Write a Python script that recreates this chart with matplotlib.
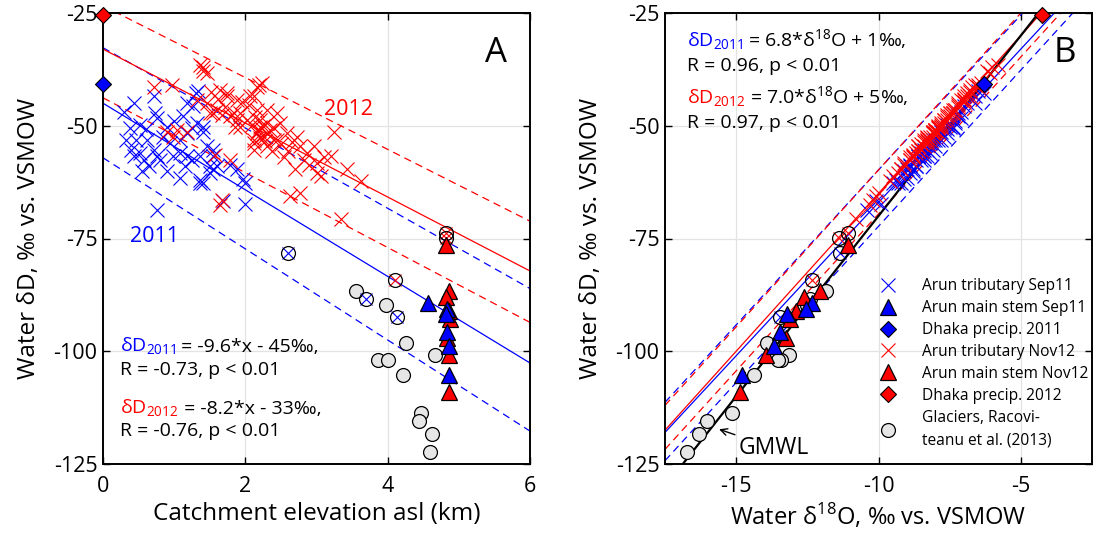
import numpy as np
import matplotlib.pyplot as plt
from matplotlib.lines import Line2D
from matplotlib.transforms import offset_copy

plt.rcParams['font.family'] = ['Open Sans', 'DejaVu Sans']
plt.rcParams['mathtext.fontset'] = 'custom'
plt.rcParams['mathtext.rm'] = 'Open Sans'
plt.rcParams['axes.unicode_minus'] = False

# ---- values ----
# Arun tributaries Sep 2011: catchment elevation (km), dD, d18O (permil VSMOW)
trib11_elev = [0.43, 0.72, 0.73, 0.76, 0.52, 0.38, 0.47, 0.33, 0.40, 0.52,
               0.57, 0.55, 0.76, 0.80, 0.90, 1.08, 1.15, 1.25, 1.37, 1.37,
               1.41, 1.51, 1.60, 1.79, 1.88, 2.00, 2.00, 1.69, 0.76, 0.85,
               0.94, 1.08, 1.18, 1.25, 1.32, 1.27, 1.34, 1.18, 1.41, 1.46,
               1.55, 1.08, 1.18, 0.99, 0.64, 0.43, 0.71, 0.62, 0.90, 1.31,
               1.41, 1.55, 1.50, 1.55, 1.97, 0.30, 0.60, 1.00, 1.12, 1.36]
trib11_dD = [-45.0, -43.5, -47.2, -48.3, -49.8, -50.5, -53.1, -53.1, -55.3, -56.0,
             -57.5, -60.1, -56.8, -57.5, -60.1, -61.6, -59.0, -57.5, -56.8, -62.0,
             -62.7, -60.5, -59.0, -58.6, -59.7, -62.7, -67.3, -66.7, -68.6, -52.4,
             -53.8, -53.1, -51.6, -50.5, -49.4, -45.7, -42.4, -45.0, -51.3, -54.6,
             -56.8, -56.0, -56.8, -56.8, -59.0, -56.8, -55.3, -53.1, -50.2, -42.8,
             -50.2, -55.3, -59.0, -59.7, -61.9, -47.0, -50.8, -49.0, -47.8, -62.7]
trib11_d18O = [-6.9, -6.6, -7.2, -7.1, -7.6, -7.4, -8.1, -7.8, -8.4, -8.2,
               -8.7, -8.8, -8.3, -8.5, -9.1, -9.0, -8.9, -8.4, -8.6, -9.4,
               -9.2, -8.9, -8.7, -8.9, -8.8, -9.5, -9.9, -10.1, -10.4, -7.7,
               -8.2, -7.9, -7.6, -7.7, -7.3, -7.0, -6.5, -6.6, -7.8, -8.0,
               -8.4, -8.5, -8.6, -8.4, -9.0, -8.6, -8.3, -8.0, -7.5, -6.3,
               -7.4, -8.1, -8.7, -9.0, -9.1, -7.1, -7.6, -7.3, -7.2, -9.3]

# Arun tributaries Nov 2012
trib12_elev = [1.41, 1.41, 1.37, 0.71, 0.97, 1.74, 1.88, 1.60, 1.67, 1.79,
               1.93, 1.86, 2.02, 2.16, 2.12, 2.31, 2.21, 2.16, 2.26, 2.12,
               2.31, 2.40, 0.99, 1.04, 1.32, 1.46, 1.51, 1.79, 1.65, 1.67,
               0.90, 1.18, 1.46, 1.65, 1.74, 2.24, 2.07, 2.16, 2.21, 2.19,
               2.31, 2.12, 2.12, 2.45, 2.49, 2.59, 2.45, 2.73, 2.77, 2.96,
               2.87, 2.82, 3.01, 3.20, 3.24, 3.43, 3.62, 3.06, 1.72, 1.84,
               1.88, 1.93, 1.55, 1.58, 3.34, 2.63, 2.77, 2.19, 3.01, 2.30,
               2.25, 2.35, 2.40, 2.20, 2.50, 2.60, 2.65, 2.05, 1.95, 2.10,
               2.90, 3.10, 2.18, 2.28, 2.14, 2.38, 1.62, 1.52, 2.55, 2.70]
trib12_dD = [-36.9, -37.9, -36.5, -41.3, -40.9, -42.8, -44.2, -46.5, -47.6, -47.9,
             -47.2, -50.2, -48.7, -41.3, -43.5, -46.5, -50.2, -51.6, -52.4, -53.8,
             -54.6, -53.1, -52.4, -50.9, -44.2, -45.0, -47.2, -57.5, -67.5, -66.4,
             -51.3, -51.3, -38.3, -42.0, -43.5, -40.5, -43.5, -46.5, -48.7, -50.9,
             -51.6, -53.1, -55.3, -47.2, -49.4, -51.6, -53.1, -52.4, -54.6, -54.6,
             -56.0, -57.5, -58.3, -56.8, -51.3, -59.7, -62.3, -61.2, -45.8, -47.2,
             -48.7, -50.2, -47.2, -56.5, -70.6, -65.6, -64.9, -40.9, -60.5, -49.5,
             -50.0, -51.0, -50.5, -52.8, -54.0, -55.5, -53.5, -45.5, -44.8, -49.8,
             -58.8, -57.0, -51.2, -53.4, -48.0, -55.6, -44.0, -42.6, -57.0, -59.5]
trib12_d18O = [-6.0, -6.2, -5.8, -6.7, -6.5, -6.9, -7.0, -7.3, -7.6, -7.5,
               -7.4, -7.9, -7.7, -6.5, -7.0, -7.4, -7.8, -8.1, -8.2, -8.3,
               -8.6, -8.4, -8.1, -8.0, -7.1, -7.2, -7.5, -8.9, -10.3, -10.2,
               -7.9, -8.1, -6.1, -6.8, -6.9, -6.4, -6.8, -7.3, -7.6, -8.0,
               -8.0, -8.2, -8.5, -7.5, -7.8, -8.1, -8.3, -8.3, -8.4, -8.6,
               -8.7, -8.9, -9.1, -8.8, -8.1, -9.2, -9.6, -9.5, -7.2, -7.4,
               -7.7, -7.8, -7.4, -8.8, -10.8, -10.1, -10.0, -6.6, -9.3, -7.7,
               -7.9, -8.0, -7.9, -8.3, -8.5, -8.6, -8.4, -7.2, -7.0, -7.8,
               -9.1, -8.9, -8.0, -8.3, -7.6, -8.6, -7.0, -6.8, -8.8, -9.2]

# glacier-fed tributaries (circled crosses)
gfed11_elev = [2.60, 3.69, 4.13]
gfed11_dD = [-78.3, -88.5, -92.3]
gfed11_d18O = [-11.35, -12.4, -13.46]
gfed12_elev = [4.10, 4.82, 4.82]
gfed12_dD = [-84.1, -73.7, -74.8]
gfed12_d18O = [-12.35, -11.07, -11.38]

# Arun main stem
main11_elev = [4.56, 4.84, 4.82, 4.84, 4.86, 4.86]
main11_dD = [-89.4, -90.7, -91.8, -95.7, -98.8, -105.3]
main11_d18O = [-12.35, -12.53, -13.23, -13.46, -13.66, -14.81]
main12_elev = [4.82, 4.86, 4.82, 4.86, 4.87, 4.84, 4.86, 4.86]
main12_dD = [-76.5, -86.7, -87.9, -91.1, -92.9, -97.0, -100.9, -109.1]
main12_d18O = [-11.07, -12.06, -12.61, -12.9, -13.11, -13.25, -13.96, -14.87]

# Dhaka precipitation
dhaka11 = dict(elev=0.0, dD=-40.8, d18O=-6.3)
dhaka12 = dict(elev=0.0, dD=-25.5, d18O=-4.24)

# Glaciers, Racoviteanu et al. (2013)
glac_elev = [3.55, 3.98, 4.26, 4.67, 3.87, 4.01, 4.22, 4.47, 4.44, 4.62, 4.59]
glac_dD = [-86.7, -89.8, -98.2, -100.9, -101.9, -101.9, -105.3, -113.6, -115.5, -118.3, -122.4]
glac_d18O = [-11.83, -12.5, -13.91, -13.16, -13.44, -13.52, -14.37, -15.16, -16.04, -16.3, -16.74]

# fit lines (slope, intercept): fit, upper, lower bound
fitA11 = [(-9.6, -45.0), (-8.9, -32.7), (-10.1, -57.1)]
fitA12 = [(-8.2, -33.0), (-7.96, -23.4), (-8.3, -43.8)]
fitB11 = [(6.8, 1.0), (6.87, 8.9), (6.93, -3.0)]
fitB12 = [(7.0, 5.0), (6.96, 9.8), (6.96, 0.05)]
gmwl = (8.0, 10.0)

BLUE = '#0000ff'
RED = '#ff0000'
GREY = '#e6e6e6'
EQ_SIZE = 14
LAB_SIZE = 17.5

fig = plt.figure(figsize=(11.05, 5.45), dpi=100)
axA = fig.add_axes([103 / 1105, 81 / 545, 427 / 1105, 451 / 545])
axB = fig.add_axes([665 / 1105, 81 / 545, 427 / 1105, 451 / 545])


def style(ax, xlim, xticks):
    ax.set_xlim(*xlim)
    ax.set_ylim(-125, -25)
    ax.set_xticks(xticks)
    ax.set_yticks([-125, -100, -75, -50, -25])
    ax.grid(True, color='#e3e3e3', lw=0.9)
    ax.set_axisbelow(True)
    ax.tick_params(direction='in', top=True, right=True, length=5,
                   width=1.0, labelsize=15.5, pad=4)
    ax.tick_params(axis='x', pad=9)
    for s in ax.spines.values():
        s.set_linewidth(1.4)
    ax.set_ylabel('Water δD, ‰ vs. VSMOW', fontsize=LAB_SIZE, labelpad=9)


def fit_lines(ax, fits, color, xs):
    xs = np.array(xs)
    for i, (m, b) in enumerate(fits):
        ls = '-' if i == 0 else (0, (6, 4))
        ax.plot(xs, m * xs + b, color=color, lw=0.9, ls=ls, zorder=1)


def points(ax, x11, y11, xg11, yg11, xm11, ym11, d11,
           x12, y12, xg12, yg12, xm12, ym12, d12, xgl, ygl, key):
    ax.plot(x11, y11, 'x', color=BLUE, ms=10, mew=0.8, ls='none', zorder=3)
    ax.plot(x12, y12, 'x', color=RED, ms=10, mew=0.8, ls='none', zorder=3)
    ax.plot(xgl, ygl, 'o', mfc=GREY, mec='k', ms=10, mew=0.9, ls='none', zorder=4)
    ax.plot(xg11, yg11, 'x', color=BLUE, ms=8, mew=0.8, ls='none', zorder=5)
    ax.plot(xg11, yg11, 'o', mfc='none', mec='k', ms=10, mew=0.9, ls='none', zorder=5)
    ax.plot(xg12, yg12, 'x', color=RED, ms=8, mew=0.8, ls='none', zorder=5)
    ax.plot(xg12, yg12, 'o', mfc='none', mec='k', ms=10, mew=0.9, ls='none', zorder=5)
    ax.plot(xm12, ym12, '^', mfc=RED, mec='k', ms=12, mew=0.9, ls='none', zorder=6)
    ax.plot(xm11, ym11, '^', mfc=BLUE, mec='k', ms=12, mew=0.9, ls='none', zorder=6)
    ax.plot(d11[key], d11['dD'], 'D', mfc=BLUE, mec='k', ms=8, mew=0.8, clip_on=False, zorder=7)
    ax.plot(d12[key], d12['dD'], 'D', mfc=RED, mec='k', ms=8, mew=0.8, clip_on=False, zorder=7)


def two_color(ax, x, y, head, tail, color, size=EQ_SIZE):
    t = ax.text(x, y, head, color=color, fontsize=size, va='baseline', transform=ax.transAxes)
    fig.canvas.draw()
    w = t.get_window_extent().width
    ax.text(x, y, tail, fontsize=size, va='baseline',
            transform=offset_copy(ax.transAxes, fig=fig, x=w, y=0, units='dots'))


# ---- panel A ----
style(axA, (0, 6), [0, 2, 4, 6])
fit_lines(axA, fitA11, BLUE, [0, 6])
fit_lines(axA, fitA12, RED, [0, 6])
points(axA, trib11_elev, trib11_dD, gfed11_elev, gfed11_dD, main11_elev, main11_dD, dhaka11,
       trib12_elev, trib12_dD, gfed12_elev, gfed12_dD, main12_elev, main12_dD, dhaka12,
       glac_elev, glac_dD, 'elev')
axA.set_xlabel('Catchment elevation asl (km)', fontsize=LAB_SIZE, labelpad=3)
axA.text(0.73, -74.5, '2011', color=BLUE, fontsize=15.5, ha='center', va='center')
axA.text(3.45, -46.5, '2012', color=RED, fontsize=15.5, ha='center', va='center')
axA.text(5.52, -33.8, 'A', fontsize=25, ha='center', va='center')
two_color(axA, 0.040, 0.248, 'δD$_{2011}$', ' = -9.6*x - 45‰,', BLUE)
axA.text(0.040, 0.198, 'R = -0.73, p < 0.01', fontsize=EQ_SIZE, va='baseline', transform=axA.transAxes)
two_color(axA, 0.040, 0.111, 'δD$_{2012}$', ' = -8.2*x - 33‰,', RED)
axA.text(0.040, 0.061, 'R = -0.76, p < 0.01', fontsize=EQ_SIZE, va='baseline', transform=axA.transAxes)

# ---- panel B ----
style(axB, (-17.5, -2.5), [-15, -10, -5])
xb = [-17.5, -2.5]
fit_lines(axB, fitB11, BLUE, xb)
fit_lines(axB, fitB12, RED, xb)
xb = np.array(xb)
axB.plot(xb, gmwl[0] * xb + gmwl[1], color='k', lw=1.6, zorder=2)
points(axB, trib11_d18O, trib11_dD, gfed11_d18O, gfed11_dD, main11_d18O, main11_dD, dhaka11,
       trib12_d18O, trib12_dD, gfed12_d18O, gfed12_dD, main12_d18O, main12_dD, dhaka12,
       glac_d18O, glac_dD, 'd18O')
axB.set_xlabel('Water δ$^{18}$O, ‰ vs. VSMOW', fontsize=LAB_SIZE - 0.5, labelpad=3)
axB.text(-3.46, -33.8, 'B', fontsize=25, ha='center', va='center')
axB.annotate('GMWL', xy=(-15.6, -117.3), xytext=(-14.9, -121.5), fontsize=16.5,
             ha='left', va='center',
             arrowprops=dict(arrowstyle='->', color='k', lw=1.0, mutation_scale=12,
                             shrinkA=1, shrinkB=0))
two_color(axB, 0.051, 0.925, 'δD$_{2011}$', ' = 6.8*δ$^{18}$O + 1‰,', BLUE)
axB.text(0.051, 0.872, 'R = 0.96, p < 0.01', fontsize=EQ_SIZE, va='baseline', transform=axB.transAxes)
two_color(axB, 0.051, 0.798, 'δD$_{2012}$', ' = 7.0*δ$^{18}$O + 5‰,', RED)
axB.text(0.051, 0.745, 'R = 0.97, p < 0.01', fontsize=EQ_SIZE, va='baseline', transform=axB.transAxes)

handles = [
    Line2D([], [], marker='x', color=BLUE, ls='none', ms=10, mew=0.8),
    Line2D([], [], marker='^', mfc=BLUE, mec='k', ls='none', ms=12, mew=0.9),
    Line2D([], [], marker='D', mfc=BLUE, mec='k', ls='none', ms=8, mew=0.8),
    Line2D([], [], marker='x', color=RED, ls='none', ms=10, mew=0.8),
    Line2D([], [], marker='^', mfc=RED, mec='k', ls='none', ms=12, mew=0.9),
    Line2D([], [], marker='D', mfc=RED, mec='k', ls='none', ms=8, mew=0.8),
    Line2D([], [], marker='o', mfc=GREY, mec='k', ls='none', ms=10, mew=0.9),
]
labels = ['Arun tributary Sep11', 'Arun main stem Sep11', 'Dhaka precip. 2011',
          'Arun tributary Nov12', 'Arun main stem Nov12', 'Dhaka precip. 2012',
          'Glaciers, Racovi-\nteanu et al. (2013)']
leg = axB.legend(handles, labels, loc='upper left', bbox_to_anchor=(0.4965, 0.412),
                 frameon=False, fontsize=11.2, handlelength=1.4, handletextpad=1.5,
                 labelspacing=0.38, borderpad=0, borderaxespad=0)
leg.get_texts()[-1].set_linespacing(1.55)

fig.savefig('out.png', dpi=100)
